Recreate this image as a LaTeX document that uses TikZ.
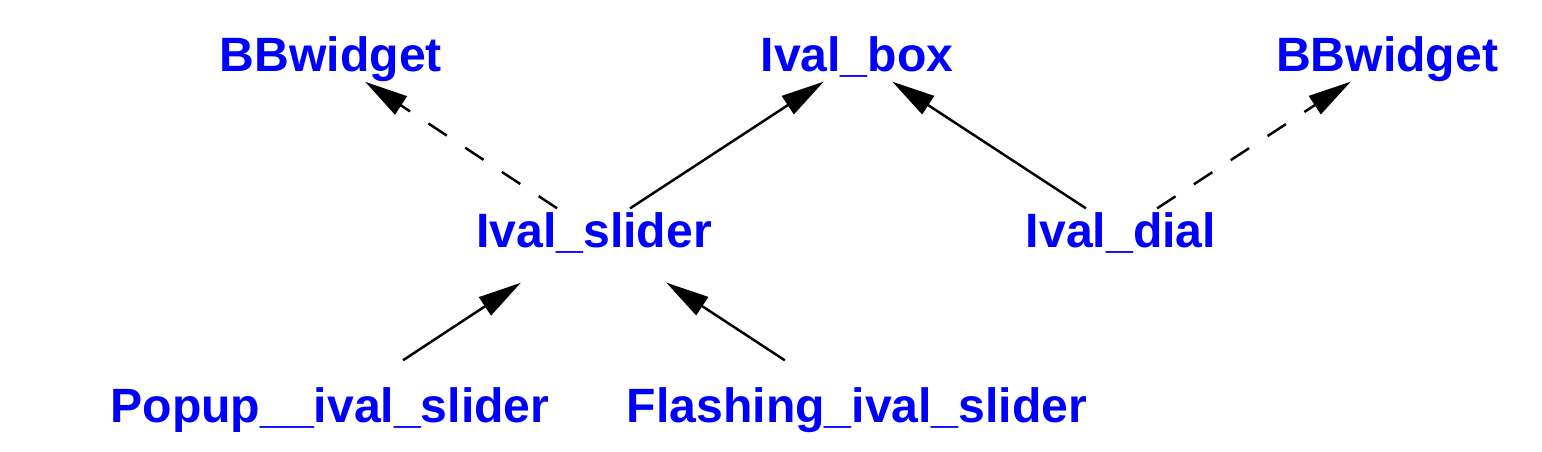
\documentclass[tikz,border=0pt]{standalone}
\usepackage{fontspec}
\setmainfont{Liberation Sans}
\usetikzlibrary{arrows.meta}

\begin{document}
\begin{tikzpicture}[
 cls/.style = {text = blue, font = \fontsize{27.4}{30}\selectfont\bfseries, inner sep = 0pt, text height = 0.69cm, text depth = 0pt},
 inh/.style = {-{Triangle[length = 0.86cm, width = 0.43cm]}, line width = 1.4pt},
 dep/.style = {inh, dash pattern = on 0.44cm off 0.44cm},
 up/.style = {shorten < = 0.79cm, shorten > = 1.01cm},
 low/.style = {shorten < = 1.63cm, shorten > = 1.92cm}]
 \useasboundingbox (0,0) rectangle (30.84,-9.04);

 \node[cls] (bbwidgetL) at (6.62,-1.08) {BBwidget};
 \node[cls] (ivalbox) at (17.14,-1.08) {Ival\_box};
 \node[cls] (bbwidgetR) at (27.74,-1.08) {BBwidget};

 \node[cls] (ivalslider) at (11.88,-4.60) {Ival\_slider};
 \node[cls] (ivaldial) at (22.42,-4.60) {Ival\_dial};

 \node[cls] (popup) at (6.60,-8.10) {Popup\_\_ival\_slider};
 \node[cls] (flashing) at (17.14,-8.10) {Flashing\_ival\_slider};

 \draw[dep, up] ([xshift=-0.08cm]ivalslider.center) -- ([xshift=-0.16cm]bbwidgetL.center);
 \draw[inh, up] ([xshift=0.06cm]ivalslider.center) -- ([xshift=0.18cm]ivalbox.center);
 \draw[inh, up] ([xshift=-0.04cm]ivaldial.center) -- ([xshift=-0.14cm]ivalbox.center);
 \draw[dep, up] ([xshift=0.06cm]ivaldial.center) -- ([xshift=0.12cm]bbwidgetR.center);

 \draw[inh, low] ([xshift=0.1cm]popup.center) -- ([xshift=0.14cm]ivalslider.center);
 \draw[inh, low] ([xshift=-0.08cm]flashing.center) -- ([xshift=-0.16cm]ivalslider.center);

\end{tikzpicture}
\end{document}
